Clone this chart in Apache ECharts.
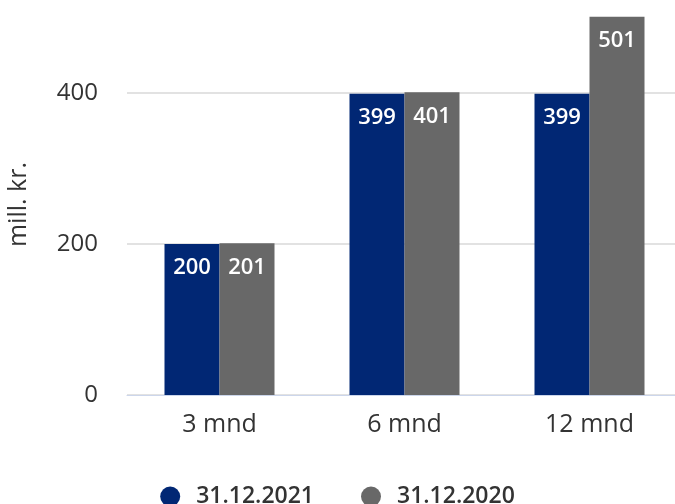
<!DOCTYPE html>
<html>
<head>
<meta charset="utf-8">
<script src="https://cdn.jsdelivr.net/npm/echarts@6/dist/echarts.min.js"></script>
<style>
  html, body { margin: 0; padding: 0; background: #fff; }
  #chart { width: 675px; height: 504px; }
</style>
</head>
<body>
<div id="chart"></div>
<script>
    // periods and values (mill. kr.)
    var categories = ['3 mnd', '6 mnd', '12 mnd'];
    var seriesNames = ['31.12.2021', '31.12.2020'];
    var values2021 = [200, 399, 399];
    var values2020 = [201, 401, 501];

    var font = '"Open Sans", "DejaVu Sans", sans-serif';

    var chart = echarts.init(document.getElementById('chart'), null, { renderer: 'canvas' });

    var barLabel = {
        show: true,
        position: 'insideTop',
        distance: 13,
        color: '#fff',
        fontFamily: font,
        fontSize: 22,
        fontWeight: 600
    };

    chart.setOption({
        animation: false,
        grid: {
            left: 127,
            right: -7,
            top: 0,
            bottom: 109,
            outerBoundsMode: 'none'
        },
        legend: {
            top: 480,
            left: 'center',
            itemGap: 47,
            itemWidth: 20,
            itemHeight: 20,
            icon: 'circle',
            textStyle: {
                fontFamily: font,
                fontSize: 23,
                fontWeight: 600,
                color: '#333',
                padding: [0, 0, 0, 11]
            },
            data: seriesNames
        },
        graphic: [{
            type: 'text',
            left: 6,
            top: 162,
            rotation: Math.PI / 2,
            style: {
                text: 'mill. kr.',
                fontFamily: font,
                fontSize: 25,
                fill: '#333'
            }
        }],
        xAxis: {
            type: 'category',
            data: categories,
            axisLine: { lineStyle: { color: '#ccd6eb' } },
            axisTick: { alignWithLabel: true, length: 17, lineStyle: { color: '#ccd6eb' } },
            axisLabel: {
                fontFamily: font,
                fontSize: 25,
                color: '#333',
                margin: 17
            }
        },
        yAxis: {
            type: 'value',
            min: 0,
            max: 523.2,
            interval: 200,
            axisLine: { show: false },
            axisTick: { show: false },
            splitLine: {
                lineStyle: {
                    color: ['#d9d9d9', '#d9d9d9', '#d9d9d9', 'rgba(0,0,0,0)'],
                    width: 1.5
                }
            },
            axisLabel: {
                fontFamily: font,
                fontSize: 24,
                color: '#333',
                margin: 29,
                showMaxLabel: false
            }
        },
        series: [
            {
                name: seriesNames[0],
                type: 'bar',
                barWidth: 55,
                barGap: '0%',
                itemStyle: { color: '#012774' },
                label: barLabel,
                data: values2021
            },
            {
                name: seriesNames[1],
                type: 'bar',
                barWidth: 55,
                barGap: '0%',
                itemStyle: { color: '#686868' },
                label: barLabel,
                data: values2020
            }
        ]
    });
</script>
</body>
</html>
